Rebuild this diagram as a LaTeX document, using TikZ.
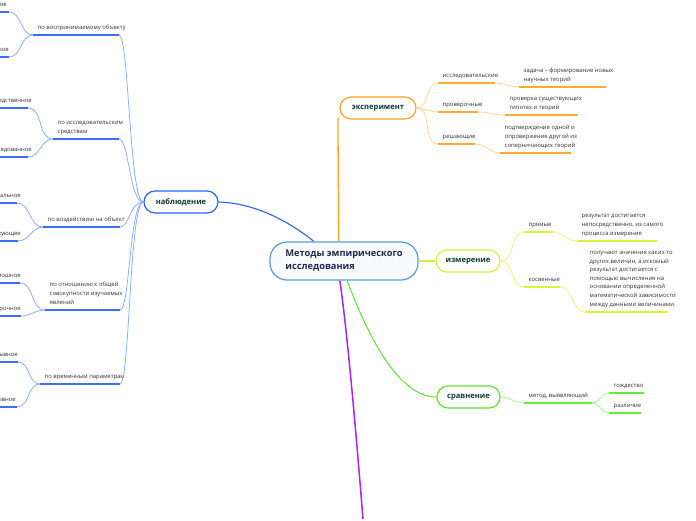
\documentclass[tikz,border=0pt]{standalone}
\usepackage{fontspec}
\setmainfont{Open Sans}
\usetikzlibrary{calc,backgrounds}
\definecolor{rootB}{HTML}{5B9BD5}
\definecolor{rootF}{HTML}{F8FBFE}
\definecolor{rootT}{HTML}{1C2B4D}
\definecolor{topT}{HTML}{0E3B34}
\definecolor{leafT}{HTML}{333333}
\definecolor{blueB}{HTML}{2962FF}
\definecolor{blueU}{HTML}{3B6EF5}
\definecolor{blueC}{HTML}{8EAEFC}
\definecolor{orB}{HTML}{FFA21F}
\definecolor{orU}{HTML}{FFAB2E}
\definecolor{orC}{HTML}{FFD699}
\definecolor{yeB}{HTML}{D6F03A}
\definecolor{yeU}{HTML}{DCF23C}
\definecolor{yeC}{HTML}{E6F585}
\definecolor{grB}{HTML}{5CE62E}
\definecolor{grU}{HTML}{66EE33}
\definecolor{grC}{HTML}{A4F58A}
\definecolor{puC}{HTML}{AA22FF}
\newcommand{\lf}{\fontsize{5.9}{8.6}\selectfont}
\newcommand{\ubranch}[6]{%
  \coordinate (#1L) at (#2,#4);
  \coordinate (#1R) at (#3,#4);
  \draw[#5] (#1L) -- (#1R);
  \node[leaf, anchor=south west] (#1) at ($(#1L)+(4.5,0)$) {#6};}
\newcommand{\lbranch}[6]{%
  \coordinate (#1R) at (#3,#4);
  \coordinate (#1L) at (-80,#4);
  \draw[#5] (#1L) -- (#1R);
  \node[leaf, align=right, anchor=south east] (#1) at (#2,#4) {#6};}
\tikzset{
  leaf/.style={font=\lf, text=leafT, align=left, inner xsep=0pt, inner ysep=3.2pt, execute at end node=\strut},
  rootbox/.style={draw=rootB, fill=rootF, line width=1.2pt, rounded corners=17pt, minimum width=148pt, minimum height=38pt, align=left, font=\fontsize{9.3}{13}\selectfont\bfseries, text=rootT, inner sep=0pt},
  topic/.style={line width=1.2pt, fill=white, rounded corners=11pt, minimum height=22pt, font=\fontsize{7.6}{9}\selectfont\bfseries, text=topT, inner sep=0pt},
  bul/.style={blueU, line width=2pt},
  bcon/.style={blueC, line width=0.8pt},
  oul/.style={orU, line width=2pt},
  ocon/.style={orC, line width=0.8pt},
  yul/.style={yeU, line width=2pt},
  ycon/.style={yeC, line width=0.8pt},
  gul/.style={grU, line width=2pt},
  gcon/.style={grC, line width=0.8pt},
}
\begin{document}
\begin{tikzpicture}[x=1pt,y=-1pt]
\useasboundingbox (0,0) rectangle (696,520);
\clip (0,0) rectangle (696,520);

\coordinate (pend) at (363,519);
\node[rootbox] (root) at (344,261) {Методы эмпирического\\исследования};
\node[topic, draw=blueB, minimum width=74pt] (nab) at (181,202) {наблюдение};
\node[topic, draw=orB, minimum width=76pt] (exp) at (378,108) {эксперимент};
\node[topic, draw=yeB, minimum width=64pt] (izm) at (468,261) {измерение};
\node[topic, draw=grB, minimum width=63pt] (srv) at (468.5,397) {сравнение};

\begin{pgfonlayer}{background}
\draw[blueB, line width=1.1pt] (root.147) .. controls (290,222) and (255,203) .. (nab.east);
\draw[orB, line width=1.3pt] (root.105) -- ($(exp.south west)+(-1.5,-2)$);
\draw[yeB, line width=1.3pt] (root.east) -- (izm.west);
\draw[grB, line width=1pt] (root.-81) .. controls (375,355) and (405,397) .. (srv.west);
\draw[puC, line width=1.5pt] (root.-102) .. controls (347,330) and (355,420) .. (pend);
\end{pgfonlayer}

% observation branches
\ubranch{n1}{33}{119}{35}{bul}{по воспринимаемому объекту}
\ubranch{n2}{53}{119}{139}{bul}{по исследовательским\\средствам}
\ubranch{n3}{43}{120}{227}{bul}{по воздействию на объект}
\ubranch{n4}{45}{120}{310}{bul}{по отношению к общей\\совокупности изучаемых\\явлений}
\ubranch{n5}{40}{120}{384}{bul}{по временным параметрам}
\foreach \n in {n1,n2,n3,n4,n5}
  \draw[bcon] (\n R) .. controls ($(\n R)+(10,0)$) and ($(nab.west)+(-14,0)$) .. (nab.west);

\lbranch{g11}{7}{9}{12}{bul}{прямое}
\lbranch{g12}{9}{9}{57}{bul}{косвенное}
\lbranch{g21}{32}{28}{108}{bul}{непосредственное}
\lbranch{g22}{32}{28}{157}{bul}{опосредованное}
\lbranch{g31}{21}{17}{203}{bul}{нейтральное}
\lbranch{g32}{21}{18}{241}{bul}{преобразующее}
\lbranch{g41}{21}{20}{283}{bul}{сплошное}
\lbranch{g42}{21}{21}{316}{bul}{выборочное}
\lbranch{g51}{18}{18}{362}{bul}{непрерывное}
\lbranch{g52}{16}{17}{407}{bul}{прерывное}
\draw[bcon] (g11R) to[out=0,in=180] (n1L);
\draw[bcon] (g12R) to[out=0,in=180] (n1L);
\draw[bcon] (g21R) to[out=0,in=180] (n2L);
\draw[bcon] (g22R) to[out=0,in=180] (n2L);
\draw[bcon] (g31R) to[out=0,in=180] (n3L);
\draw[bcon] (g32R) to[out=0,in=180] (n3L);
\draw[bcon] (g41R) to[out=0,in=180] (n4L);
\draw[bcon] (g42R) to[out=0,in=180] (n4L);
\draw[bcon] (g51R) to[out=0,in=180] (n5L);
\draw[bcon] (g52R) to[out=0,in=180] (n5L);

% experiment
\ubranch{e1}{438}{495}{83}{oul}{исследовательские}
\ubranch{e2}{438}{478}{112}{oul}{проверочные}
\ubranch{e3}{438}{475}{144}{oul}{решающие}
\foreach \n in {e1,e2,e3}
  \draw[ocon] (exp.east) to[out=0,in=180] (\n L);
\ubranch{e11}{519}{606}{87}{oul}{задача – формирование новых\\научных теорий}
\ubranch{e21}{505}{578}{115}{oul}{проверка существующих\\гипотез и теорий}
\ubranch{e31}{500}{571}{153}{oul}{подтверждение одной и\\опровержение другой из\\соперничающих теорий}
\draw[ocon] (e1R) to[out=0,in=180] (e11L);
\draw[ocon] (e2R) to[out=0,in=180] (e21L);
\draw[ocon] (e3R) to[out=0,in=180] (e31L);

% measurement
\ubranch{m1}{524}{553}{232}{yul}{прямые}
\ubranch{m2}{524}{560}{287}{yul}{косвенные}
\draw[ycon] (izm.east) to[out=0,in=180] (m1L);
\draw[ycon] (izm.east) to[out=0,in=180] (m2L);
\ubranch{m11}{577}{657}{241}{yul}{результат достигается\\непосредственно, из самого\\процесса измерения}
\ubranch{m21}{585}{668}{312}{yul}{получают значение каких-то\\других величин, а искомый\\результат достигается с\\помощью вычисления на\\основании определенной\\математической зависимости\\между данными величинами.}
\draw[ycon] (m1R) to[out=0,in=180] (m11L);
\draw[ycon] (m2R) to[out=0,in=180] (m21L);

% comparison
\ubranch{c1}{524}{592}{403}{gul}{метод, выявляющий}
\draw[gcon] (srv.east) to[out=0,in=180] (c1L);
\ubranch{c11}{609}{644}{393}{gul}{тождество}
\ubranch{c12}{609}{641}{413}{gul}{различие}
\draw[gcon] (c1R) to[out=0,in=180] (c11L);
\draw[gcon] (c1R) to[out=0,in=180] (c12L);
\end{tikzpicture}
\end{document}
